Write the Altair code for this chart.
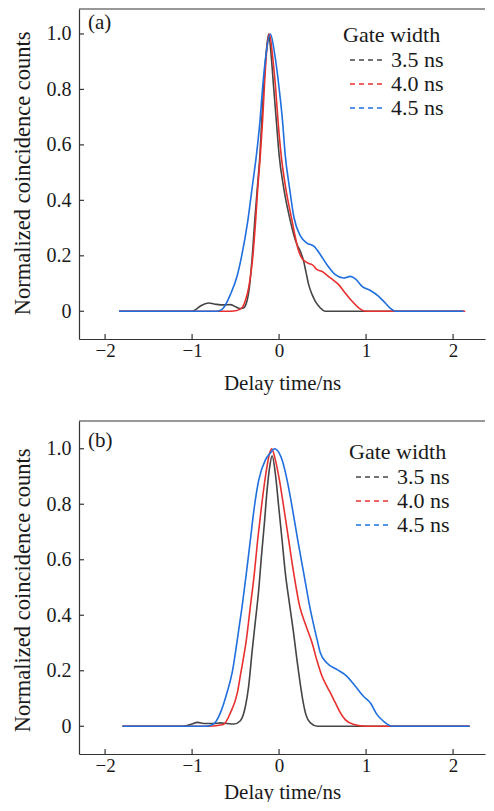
import altair as alt
import pandas as pd

series_labels = ["3.5 ns", "4.0 ns", "4.5 ns"]
colors = ["#454545", "#e8302e", "#1f6fde"]
legend_title = "Gate width"
x_ticks = [-2, -1, 0, 1, 2]
y_ticks = [0, 0.2, 0.4, 0.6, 0.8, 1.0]

# ---- panel (a) ----
a35_x = [-1.84, -1.0, -0.96, -0.9, -0.81, -0.72, -0.62, -0.56, -0.5, -0.45,
         -0.41, -0.37, -0.34, -0.307, -0.28, -0.25, -0.22, -0.20, -0.177, -0.15,
         -0.12, -0.092, -0.062, -0.031, 0.0, 0.053, 0.13, 0.168, 0.20, 0.245,
         0.283, 0.31, 0.34, 0.38, 0.417, 0.475, 0.53, 2.12]
a35_y = [0, 0, 0.006, 0.02, 0.03, 0.025, 0.023, 0.024, 0.016, 0.01,
         0.012, 0.036, 0.09, 0.204, 0.325, 0.445, 0.565, 0.685, 0.805, 0.926,
         1.0, 0.926, 0.805, 0.685, 0.565, 0.445, 0.325, 0.277, 0.245, 0.216,
         0.18, 0.14, 0.096, 0.06, 0.036, 0.012, 0, 0]
a40_x = [-1.84, -0.6, -0.5, -0.46, -0.42, -0.39, -0.35, -0.30, -0.27, -0.245,
         -0.215, -0.19, -0.17, -0.146, -0.11, -0.077, -0.04, -0.012, 0.023, 0.076,
         0.15, 0.18, 0.226, 0.265, 0.30, 0.34, 0.38, 0.437, 0.49, 0.59,
         0.685, 0.76, 0.84, 0.915, 1.0, 2.14]
a40_y = [0, 0, 0.002, 0.006, 0.015, 0.036, 0.084, 0.204, 0.325, 0.445,
         0.565, 0.685, 0.805, 0.926, 1.0, 0.926, 0.805, 0.685, 0.565, 0.445,
         0.325, 0.277, 0.216, 0.19, 0.18, 0.172, 0.168, 0.15, 0.144, 0.12,
         0.096, 0.066, 0.036, 0.012, 0, 0]
a45_x = [-1.84, -0.72, -0.67, -0.64, -0.56, -0.48, -0.43, -0.36, -0.31, -0.26,
         -0.22, -0.19, -0.15, -0.10, -0.05, 0.0, 0.04, 0.07, 0.12, 0.17,
         0.245, 0.32, 0.40, 0.475, 0.55, 0.647, 0.74, 0.82, 0.877, 0.954,
         1.05, 1.145, 1.22, 1.28, 1.34, 2.12]
a45_y = [0, 0, 0.004, 0.012, 0.06, 0.13, 0.20, 0.325, 0.445, 0.565,
         0.685, 0.805, 0.926, 1.0, 0.926, 0.805, 0.685, 0.565, 0.445, 0.34,
         0.272, 0.246, 0.235, 0.204, 0.168, 0.132, 0.12, 0.126, 0.117, 0.09,
         0.075, 0.054, 0.03, 0.01, 0, 0]

# ---- panel (b) ----
b35_x = [-1.80, -1.1, -1.0, -0.94, -0.85, -0.75, -0.675, -0.6, -0.52, -0.445,
         -0.387, -0.35, -0.31, -0.272, -0.234, -0.203, -0.169, -0.138, -0.108, -0.08,
         -0.043, -0.004, 0.034, 0.072, 0.12, 0.165, 0.205, 0.24, 0.275, 0.31,
         0.36, 0.44, 2.19]
b35_y = [0, 0, 0.008, 0.014, 0.01, 0.01, 0.012, 0.01, 0.008, 0.02,
         0.072, 0.144, 0.27, 0.38, 0.492, 0.612, 0.731, 0.851, 0.935, 0.975,
         0.91, 0.79, 0.672, 0.552, 0.44, 0.34, 0.24, 0.16, 0.09, 0.04,
         0.012, 0, 0]
b40_x = [-1.80, -0.81, -0.64, -0.56, -0.48, -0.44, -0.376, -0.33, -0.284, -0.246,
         -0.203, -0.157, -0.108, -0.085, -0.043, 0.004, 0.053, 0.11, 0.168, 0.237,
         0.30, 0.38, 0.437, 0.494, 0.55, 0.59, 0.647, 0.705, 0.76, 0.86,
         1.0, 2.19]
b40_y = [0, 0, 0.006, 0.048, 0.12, 0.192, 0.312, 0.432, 0.552, 0.672,
         0.79, 0.9, 0.985, 1.0, 0.96, 0.887, 0.79, 0.672, 0.552, 0.432,
         0.37, 0.30, 0.235, 0.18, 0.144, 0.12, 0.084, 0.048, 0.024, 0.006,
         0, 0]
b45_x = [-1.80, -0.85, -0.79, -0.73, -0.675, -0.60, -0.54, -0.48, -0.425, -0.376,
         -0.33, -0.284, -0.234, -0.157, -0.10, -0.054, 0.0, 0.034, 0.092, 0.15,
         0.214, 0.283, 0.352, 0.437, 0.475, 0.55, 0.667, 0.78, 0.877, 0.97,
         1.05, 1.126, 1.2, 1.3, 2.19]
b45_y = [0, 0, 0.003, 0.015, 0.048, 0.12, 0.192, 0.312, 0.432, 0.552,
         0.672, 0.791, 0.887, 0.96, 0.985, 1.0, 0.985, 0.96, 0.887, 0.79,
         0.672, 0.552, 0.432, 0.312, 0.264, 0.228, 0.204, 0.18, 0.144, 0.108,
         0.084, 0.042, 0.018, 0, 0]


def make_df(xs_list, ys_list):
    rows = []
    for lab, xs, ys in zip(series_labels, xs_list, ys_list):
        for x, y in zip(xs, ys):
            rows.append({"t": x, "c": y, "gate": lab})
    return pd.DataFrame(rows)


df_a = make_df([a35_x, a40_x, a45_x], [a35_y, a40_y, a45_y])
df_b = make_df([b35_x, b40_x, b45_x], [b35_y, b40_y, b45_y])

W = 406
XDOM = [-2.3, 2.367]
FONT = "Liberation Serif"
INK = "#1a1a1a"


def legend_layers(lx, ly):
    """Legend drawn inside the panel: title + dashed key lines + labels."""
    layers = [alt.Chart(pd.DataFrame({"s": [legend_title]})).mark_text(
        align="left", baseline="middle", font=FONT, fontSize=22, color=INK).encode(
        text="s:N", x=alt.value(lx), y=alt.value(ly))]
    for i, (lab, col) in enumerate(zip(series_labels, colors)):
        yy = ly + 25 + 24 * i
        layers.append(alt.Chart(pd.DataFrame({"s": [lab]})).mark_rule(
            color=col, strokeWidth=1.5, strokeDash=[5, 4]).encode(
            x=alt.value(lx + 7), x2=alt.value(lx + 42), y=alt.value(yy)))
        layers.append(alt.Chart(pd.DataFrame({"s": [lab]})).mark_text(
            align="left", baseline="middle", font=FONT, fontSize=22, color=INK).encode(
            text="s:N", x=alt.value(lx + 48), y=alt.value(yy)))
    return layers


def panel(df, tag, ydom, H, lx, ly, tag_y, ytitle_y, xtitle_pad):
    xs = alt.Scale(domain=XDOM, nice=False, zero=False)
    ys = alt.Scale(domain=ydom, nice=False, zero=False)
    xenc = alt.X("t:Q", scale=xs, axis=alt.Axis(
        title="Delay time/ns", values=x_ticks, format="d", ticks=False, grid=False,
        labelPadding=2, titlePadding=xtitle_pad, labelFont=FONT, titleFont=FONT,
        labelFontSize=19, titleFontSize=21))
    yenc = alt.Y("c:Q", scale=ys, axis=alt.Axis(
        title="Normalized coincidence counts", values=y_ticks,
        labelExpr="datum.value == 0 ? '0' : format(datum.value, '.1f')",
        ticks=False, grid=False, labelPadding=8,
        labelFont=FONT, titleFont=FONT, labelFontSize=20, titleFontSize=22.5,
        titleAngle=270, titleAlign="right", titleBaseline="alphabetic",
        titleX=-50, titleY=ytitle_y))
    lines = alt.Chart(df).mark_line(strokeWidth=1.6, interpolate="monotone").encode(
        x=xenc, y=yenc,
        color=alt.Color("gate:N", scale=alt.Scale(domain=series_labels, range=colors),
                        legend=None),
    )
    ytick = alt.Chart(pd.DataFrame({"c": y_ticks})).mark_rule(
        color="#333333", strokeWidth=1.2).encode(
        y=alt.Y("c:Q", scale=ys), x=alt.value(0), x2=alt.value(5))
    xtick = alt.Chart(pd.DataFrame({"t": x_ticks})).mark_rule(
        color="#333333", strokeWidth=1.2).encode(
        x=alt.X("t:Q", scale=xs), y=alt.value(H), y2=alt.value(H - 5))
    top = alt.Chart(pd.DataFrame({"k": [0]})).mark_rule(
        color="#333333", strokeWidth=1.2).encode(
        x=alt.value(0), x2=alt.value(W), y=alt.value(0))
    label = alt.Chart(pd.DataFrame({"lab": [tag]})).mark_text(
        align="left", baseline="middle", font=FONT, fontSize=21, color=INK).encode(
        text="lab:N", x=alt.value(9), y=alt.value(tag_y))
    return alt.layer(lines, ytick, xtick, top, label, *legend_layers(lx, ly)).properties(
        width=W, height=H)


pa = panel(df_a, "(a)", [-0.1, 1.09], 330, 264, 26, 14, 22, 12)
pb = panel(df_b, "(b)", [-0.1, 1.1], 333, 270, 31, 20, 27, 6)

chart = alt.vconcat(pa, pb, spacing=82, bounds="flush").properties(
    padding={"left": 3, "top": 0, "right": 0, "bottom": 0}
).configure(font=FONT).configure_view(stroke=None).configure_axis(
    labelFont=FONT, titleFont=FONT,
    titleFontWeight="normal", labelColor=INK, titleColor=INK,
    domainColor="#333333", domainWidth=1.2,
)

chart.save("out.html", embed_options={"renderer": "svg", "actions": False})
